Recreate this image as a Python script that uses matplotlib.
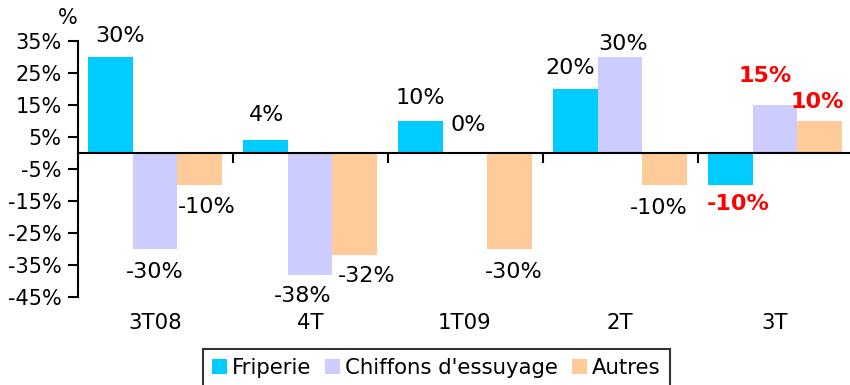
import numpy as np
import matplotlib.pyplot as plt

# quarterly change by category
quarters = ["3T08", "4T", "1T09", "2T", "3T"]
friperie = [30, 4, 10, 20, -10]
chiffons = [-30, -38, 0, 30, 15]
autres = [-10, -32, -30, -10, 10]

series = [("Friperie", friperie, "#00CCFF"),
          ("Chiffons d'essuyage", chiffons, "#CCCCFF"),
          ("Autres", autres, "#FFCC99")]

# label placement per bar: (horizontal shift px, distance from bar end px)
label_pos = [
    [(10, 21), (1.5, 25.5), (0, 22.5), (-4.5, 20.5), (8, 19.5)],
    [(-0.5, 22.5), (-7, 21), (3.5, 28), (3, 13), (-9.5, 28.5)],
    [(6.5, 22), (12, 21), (4, 23), (-6.5, 23.5), (-2.5, 18.5)],
]

plt.rcParams['font.family'] = 'DejaVu Sans'
plt.rcParams['font.size'] = 15.3

fig = plt.figure(figsize=(8.5, 3.85), dpi=100)
ax = fig.add_axes([77.5/850, 1-297/385, 775/850, 256/385])

x = np.arange(len(quarters))
w = 0.29
for i, (name, vals, col) in enumerate(series):
    pos = x + (i - 1) * w
    ax.bar(pos, vals, w, color=col, label=name, zorder=2)
    for j, (p, v) in enumerate(zip(pos, vals)):
        last = j == len(quarters) - 1
        dx, dist = label_pos[i][j]
        dy = dist if v >= 0 else -dist
        ax.annotate(f"{v}%", (p, v), xytext=(dx, dy), textcoords="offset pixels",
                    ha="center", va="center", fontsize=16,
                    color="#FF0000" if last else "black",
                    fontweight="bold" if last else "normal")

ax.set_xlim(-0.5, len(quarters) - 0.5)
ax.set_ylim(-45, 35)
ax.set_yticks(np.arange(-45, 36, 10))
ax.set_yticklabels([f"{t}%" for t in range(-45, 36, 10)], fontsize=15)

for s in ["top", "right"]:
    ax.spines[s].set_visible(False)
ax.spines["bottom"].set_position(("data", 0))
ax.spines["bottom"].set_linewidth(1.5)
ax.spines["left"].set_linewidth(1.5)
ax.spines["bottom"].set_zorder(3)

# category separators on the zero line
ax.set_xticks(np.arange(0.5, len(quarters), 1))
ax.set_xticklabels([])
ax.tick_params(axis="x", direction="out", length=7, width=1.5)
ax.tick_params(axis="y", direction="out", length=7, width=1.5, pad=4.5)

for xi, q in zip(x, quarters):
    ax.annotate(q, (xi, 0), xycoords=ax.get_xaxis_transform(), xytext=(0, -26),
                textcoords="offset pixels", ha="center", va="center")

fig.text(67.5/850, 1-17.5/385, "%", ha="center", va="center", fontsize=15)

leg = fig.legend(loc="upper left", bbox_to_anchor=(203/850, 1-349/385), ncol=3,
                 borderaxespad=0, frameon=True, fancybox=False,
                 handlelength=0.7, handleheight=0.66, handletextpad=0.24,
                 columnspacing=0.66, borderpad=0.42)
leg.get_frame().set_edgecolor("black")
leg.get_frame().set_linewidth(1.5)

fig.savefig("out.png", dpi=100)
